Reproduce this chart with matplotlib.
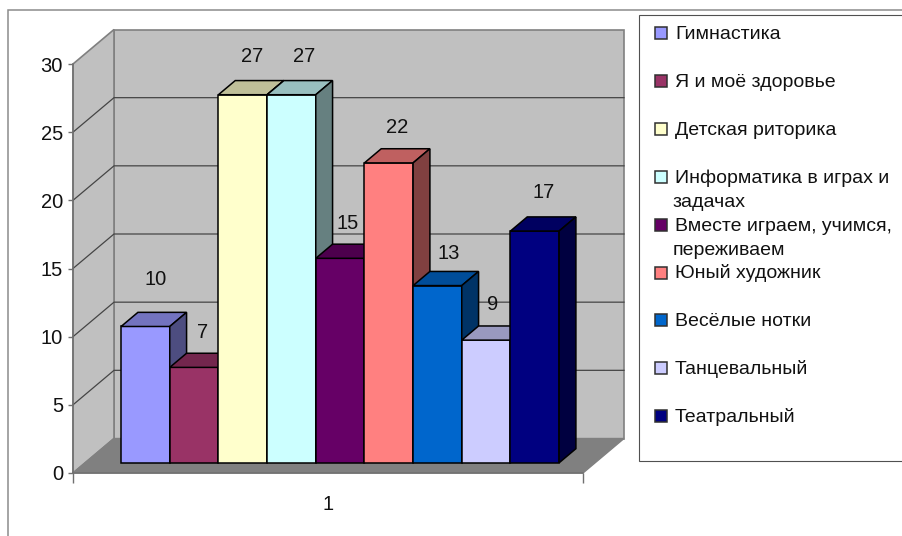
import matplotlib
matplotlib.use("Agg")
import matplotlib.pyplot as plt
from matplotlib.patches import Polygon, Rectangle
import matplotlib.colors as mc

plt.rcParams['font.family'] = ['Liberation Sans', 'DejaVu Sans']

categories = ["Гимнастика", "Я и моё здоровье", "Детская риторика",
              "Информатика в играх и\nзадачах", "Вместе играем, учимся,\nпереживаем",
              "Юный художник", "Весёлые нотки", "Танцевальный", "Театральный"]
values = [10, 7, 27, 27, 15, 22, 13, 9, 17]
colors = ["#9999FF", "#993366", "#FFFFCC", "#CCFFFF", "#660066",
          "#FF8080", "#0066CC", "#CCCCFF", "#000080"]
y_ticks = [0, 5, 10, 15, 20, 25, 30]
x_label = "1"
# hand nudges of the value labels, in pixels (dx, dy up)
label_nudge = [(10, 47), (8, 35), (9, 38), (13, 38), (8, 35), (8, 35), (11, 32), (7, 36), (9, 39)]

W, H = 903, 536
fig = plt.figure(figsize=(W / 100, H / 100), dpi=100, facecolor="white")

# page overlay in pixel units: outer frame and legend
ov = fig.add_axes([0, 0, 1, 1], facecolor="none")
ov.set_xlim(0, W); ov.set_ylim(H, 0); ov.axis("off")
ov.add_patch(Rectangle((8, 10), W, H, fc="white", ec="#8c8c8c", lw=1.1))
ov.add_patch(Rectangle((639, 15), W, 446, fc="white", ec="#505050", lw=0.8))
for i, (name, col) in enumerate(zip(categories, colors)):
    yc = 33 + 47.9 * i
    ov.add_patch(Rectangle((655.5, yc - 6), 11.5, 12, fc=col, ec="#303030", lw=1.1))
    for k, line in enumerate(name.split("\n")):
        ov.text(675 - 2 * k, yc + 6 + 24 * k, line, fontsize=14, color="#111111",
                va="baseline", ha="left")

# chart axes: front plane of the 3D box
L, R, T, B = 73, 583, 64, 473
ax = fig.add_axes([L / W, 1 - B / H, (R - L) / W, (B - T) / H], facecolor="none")
ax.set_xlim(0.5, 1.5)
ax.set_ylim(0, 30)
px_x = (R - L) / 1.0
px_y = (B - T) / 30.0
DX, DY = 41 / px_x, 34.5 / px_y     # full depth of the box in data units
d1, d2 = 0.295, 0.705               # bar front and back depth


def P(x, y, d):
    return (x + d * DX, y + d * DY)


wall, floor_c, grid = "#C0C0C0", "#808080", "#454545"
ax.add_patch(Polygon([P(.5, 0, 1), P(1.5, 0, 1), P(1.5, 30, 1), P(.5, 30, 1)],
                     fc=wall, ec="#808080", lw=1.2, clip_on=False, zorder=1))
ax.add_patch(Polygon([P(.5, 0, 0), P(.5, 0, 1), P(.5, 30, 1), P(.5, 30, 0)],
                     fc=wall, ec="#808080", lw=1.2, clip_on=False, zorder=1))
ax.add_patch(Polygon([P(.5, 0, 0), P(1.5, 0, 0), P(1.5, 0, 1), P(.5, 0, 1)],
                     fc=floor_c, ec="#808080", lw=1, clip_on=False, zorder=1.2))
for v in y_ticks[1:-1]:
    xs, ys = zip(P(.5, v, 0), P(.5, v, 1), P(1.5, v, 1))
    ax.plot(xs, ys, color=grid, lw=0.9, clip_on=False, zorder=1.1)

n = len(values)
w = (438 / px_x) / n
x0 = 1 - w * n / 2
edge = "#000000"


def shade(c, f):
    return tuple(f * a for a in mc.to_rgb(c))


for i, (v, c) in enumerate(zip(values, colors)):
    xl, xr = x0 + i * w, x0 + (i + 1) * w
    z = 2 + i
    base = P(xl, 0, d1)
    ax.bar(base[0], v, width=w, bottom=base[1], align="edge", color=c,
           edgecolor=edge, lw=1.1, clip_on=False, zorder=z)
    ax.add_patch(Polygon([P(xl, v, d1), P(xr, v, d1), P(xr, v, d2), P(xl, v, d2)],
                         fc=shade(c, .75), ec=edge, lw=1.1, clip_on=False, zorder=z))
    ax.add_patch(Polygon([P(xr, 0, d1), P(xr, 0, d2), P(xr, v, d2), P(xr, v, d1)],
                         fc=shade(c, .5), ec=edge, lw=1.1, clip_on=False, zorder=z))

for i, v in enumerate(values):
    xc = x0 + (i + .5) * w
    nx, ny = label_nudge[i]
    ax.annotate(str(v), P(xc, v, d1), xytext=(nx * .72, ny * .72), textcoords="offset points",
                ha="center", va="center", fontsize=14.5, color="#111111",
                annotation_clip=False, zorder=20)

for s in ("top", "right"):
    ax.spines[s].set_visible(False)
for s in ("left", "bottom"):
    ax.spines[s].set_color("#707070")
    ax.spines[s].set_linewidth(1.1)
    ax.spines[s].set_zorder(1.5)
ax.set_yticks(y_ticks)
ax.tick_params(axis="y", length=3.6, width=1, color="#707070", pad=3.6, labelsize=14.5,
               labelcolor="#111111")
ax.set_xticks([0.5, 1.5])
ax.set_xticklabels([])
ax.tick_params(axis="x", which="major", length=7, width=1, color="#707070")
ax.set_xticks([1], labels=[x_label], minor=True)
ax.tick_params(axis="x", which="minor", length=0, pad=16, labelsize=14.5, labelcolor="#111111")

fig.savefig("out.png", dpi=100)
